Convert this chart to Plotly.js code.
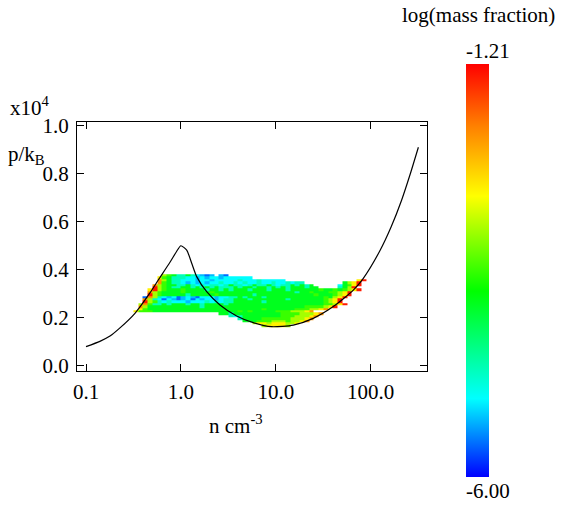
<!DOCTYPE html>
<html><head><meta charset="utf-8">
<script src="https://cdn.plot.ly/plotly-3.0.1.min.js"></script>
<style>html,body{margin:0;padding:0;background:#fff}#chart{width:564px;height:507px}</style>
</head><body><div id="chart"></div>
<script>
// ---- data ----
// equilibrium curve (n in cm^-3, p/k_B in units of 1e4)
const curveN = [0.100,0.140,0.179,0.228,0.328,0.472,0.578,0.767,0.90,1.00,1.151,1.30,1.467,1.87,2.58,3.87,5.79,9.05,15.3,24.8,40.3,65.6,83.6,125,164,212,259,318];
const curveP = [0.078,0.100,0.122,0.156,0.217,0.302,0.356,0.430,0.475,0.499,0.481,0.426,0.370,0.307,0.252,0.206,0.178,0.161,0.168,0.196,0.245,0.314,0.363,0.478,0.577,0.690,0.794,0.910];

// 2D histogram bins: log10(n) bins and p bins
const logNBinStart = -0.5, logNBinWidth = 0.05, nBinCount = 49;
const pBinStart = 0.16, pBinWidth = 0.01;
// colour level codes -> log(mass fraction)
const levelKeys   = ['B','b','c','d','g','G','l','y','o','r'];
const levelValues = [-5.62,-5.33,-5.09,-4.75,-3.99,-3.60,-3.13,-2.65,-2.07,-1.35];
// rows from top (p 0.37-0.38) to bottom (p 0.16-0.17); '.' = empty
const massRows = [
  "......lGgddgdcbBb.bB",
  ".....yGgdddccbcbccbcccccc",
  ".....olgddcccbccbcccccdcccdccccc...............yr",
  ".....oGgddcbcbcbccdccdcdccdccdccdcdd........glyr.",
  "....olGggddgdcdcddcdgddcdgddgdcddgdgdg.....cgGyr.",
  "....rlGgddggdgdgdgdddgdggdggdgdgdgggdgg....dglr..",
  "...yrlGgggGggggdggdgdgggdgggdgggdggggggGggGgGlyr..",
  "...olGggggGgggggGgggggggggggggggggdggGgggGGlyr...",
  "...rlGgggggdgggggGgggggggdggggggggggggGgggGlyr....",
  "..BoldcbcBbcbBcccbccddgdgggdggggggggggggGglyr....",
  "..oldcBcbBbcBcbccbcddgggdgggggggdgggggggGlyr.....",
  "..rlGdcdcccbcccdcdcddggggggdggggggggggggGlyr.....",
  ".loGddgdgggdggdggggdggggggggggggggggggggGGlyr......",
  ".olgggggggggggdgggggggggggggggggggggGGGGlyr.......",
  ".yGggggggggggggggggggggggggGggggggGGGllyo........",
  "yGGGggggggggggggggggggGgGgggggGGGlllyo.........",
  "..................ggdggggggggggGGGGlllyo.........",
  "....................dcdggggggggGGGlllyo..........",
  "......................dggggGGGGGGlllyo...........",
  ".......................gggGGGlllGllyo............",
  ".........................lyylyyylly..............",
  "...........................lyyyyl................"
];

// colour bar range
const cMin = -6.00, cMax = -1.21;
const cTitle = 'log(mass fraction)';
const xTickVals = [0.1, 1, 10, 100];
const xTickText = ['0.1', '1.0', '10.0', '100.0'];
const yTickVals = [0, 0.2, 0.4, 0.6, 0.8, 1.0];

// ---- build ----
const xEdges = [];
for (let i = 0; i <= nBinCount; i++) xEdges.push(Math.pow(10, logNBinStart + i * logNBinWidth));
const nRows = massRows.length;
const yEdges = [];
for (let j = 0; j <= nRows; j++) yEdges.push(+(pBinStart + j * pBinWidth).toFixed(4));
const z = [];
for (let j = 0; j < nRows; j++) {
  const s = massRows[nRows - 1 - j].padEnd(nBinCount, '.').slice(0, nBinCount);
  const row = [];
  for (let i = 0; i < nBinCount; i++) {
    const k = levelKeys.indexOf(s[i]);
    row.push(k < 0 ? null : levelValues[k]);
  }
  z.push(row);
}

// layout pixel geometry
const W = 564, H = 507, L = 77, R = 427, T = 122, B = 371;
const px = x => (x - L) / (R - L);
const py = y => (B - y) / (B - T);
const FONT = 'Liberation Serif';
const FS = 21;
const FTXT = {family: FONT, size: FS, color: '#000000'};

const colorscale = [
  [0.00, 'rgb(0,0,255)'],
  [0.19, 'rgb(0,255,255)'],
  [0.45, 'rgb(0,255,0)'],
  [0.68, 'rgb(255,255,0)'],
  [0.85, 'rgb(255,128,0)'],
  [1.00, 'rgb(255,0,0)']
];

const heat = {
  type: 'heatmap', x: xEdges, y: yEdges, z: z,
  zmin: cMin, zmax: cMax, colorscale: colorscale, zsmooth: false,
  hoverinfo: 'skip',
  colorbar: {
    x: px(466), xanchor: 'left', xref: 'paper',
    y: py(270.5), yanchor: 'middle', yref: 'paper',
    lenmode: 'pixels', len: 413, thickness: 23,
    xpad: 0, ypad: 0, outlinewidth: 0,
    showticklabels: false, ticks: ''
  }
};
const curve = {
  type: 'scatter', mode: 'lines', x: curveN, y: curveP,
  line: {color: '#000', width: 1.2, shape: 'spline', smoothing: 0.6},
  hoverinfo: 'skip', showlegend: false
};

const axisCommon = {
  showgrid: false, zeroline: false, showline: true, linecolor: '#000', linewidth: 1,
  mirror: 'ticks', ticks: 'inside', ticklen: 7, tickcolor: '#000', tickwidth: 1,
  tickfont: FTXT
};

const layout = {
  width: W, height: H,
  margin: {l: L, r: W - R, t: T, b: H - B, pad: 0},
  paper_bgcolor: '#fff', plot_bgcolor: '#fff',
  showlegend: false,
  font: FTXT,
  xaxis: Object.assign({}, axisCommon, {
    type: 'log', range: [-1.0948, 2.5933],
    tickmode: 'array', tickvals: xTickVals, ticktext: xTickText, ticklabelstandoff: 2
  }),
  yaxis: Object.assign({}, axisCommon, {
    range: [-0.0238, 1.0154], tickmode: 'array', tickvals: yTickVals, tickformat: '.1f',
    ticklabelstandoff: 3
  }),
  annotations: [
    {text: 'n cm<sup>-3</sup>', xref: 'paper', yref: 'paper', x: px(236), y: py(424), xanchor: 'center', yanchor: 'middle', showarrow: false, font: FTXT},
    {text: 'x10<sup>4</sup>', xref: 'paper', yref: 'paper', x: px(8), y: py(107), xanchor: 'left', yanchor: 'middle', showarrow: false, font: FTXT},
    {text: 'p/k<sub>B</sub>', xref: 'paper', yref: 'paper', x: px(6), y: py(155), xanchor: 'left', yanchor: 'middle', showarrow: false, font: FTXT},
    {text: cTitle, xref: 'paper', yref: 'paper', x: px(478.5), y: py(15), xanchor: 'center', yanchor: 'middle', showarrow: false, font: FTXT},
    {text: cMax.toFixed(2), xref: 'paper', yref: 'paper', x: px(487.5), y: py(51), xanchor: 'center', yanchor: 'middle', showarrow: false, font: FTXT},
    {text: cMin.toFixed(2), xref: 'paper', yref: 'paper', x: px(488), y: py(491), xanchor: 'center', yanchor: 'middle', showarrow: false, font: FTXT}
  ]
};

Plotly.newPlot('chart', [heat, curve], layout, {staticPlot: true, displayModeBar: false});
</script>
</body></html>
